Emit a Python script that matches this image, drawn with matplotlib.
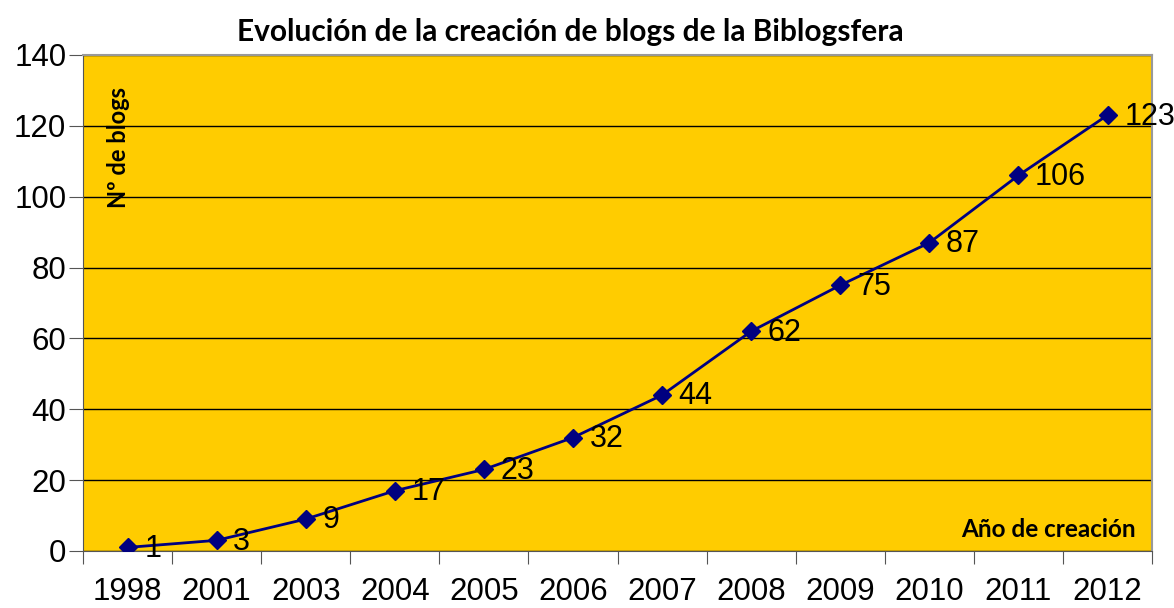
import matplotlib.pyplot as plt
import numpy as np

years = ['1998', '2001', '2003', '2004', '2005', '2006', '2007',
         '2008', '2009', '2010', '2011', '2012']
blogs = [1, 3, 9, 17, 23, 32, 44, 62, 75, 87, 106, 123]

fig = plt.figure(figsize=(11.74, 6.08), dpi=100)
ax = fig.add_axes([0.0707, 0.0938, 0.9106, 0.8158])
ax.set_facecolor('#FFCC00')

x = np.arange(len(years))
ax.plot(x, blogs, color='#000080', lw=2, marker='D', markersize=9, zorder=3)

for xi, v in zip(x, blogs):
    ax.annotate(str(v), (xi, v), xytext=(12, -1), textcoords='offset points',
                ha='left', va='center', fontsize=22, family='Liberation Sans')

ax.set_xlim(-0.5, len(years) - 0.5)
ax.set_ylim(0, 140)
ax.set_yticks(np.arange(0, 141, 20))
ax.yaxis.grid(True, color='black', lw=1)
ax.set_axisbelow(True)

# category ticks between points, labels under points
ax.set_xticks(np.arange(-0.5, len(years)), labels=[''] * (len(years) + 1))
ax.set_xticks(x, labels=years, minor=True)
ax.tick_params(axis='x', which='minor', length=0, pad=19)
ax.tick_params(axis='x', which='major', length=9, color='#555555')
ax.tick_params(axis='y', length=10, pad=2, color='#555555')
for lab in ax.get_xticklabels(minor=True) + ax.get_yticklabels():
    lab.set_fontsize(22.5)
    lab.set_family('Liberation Sans')

for side in ['top', 'right']:
    ax.spines[side].set_color('#999999')
    ax.spines[side].set_linewidth(1.5)
for side in ['left', 'bottom']:
    ax.spines[side].set_color('#555555')

fig.text(0.486, 0.948, 'Evolución de la creación de blogs de la Biblogsfera',
         ha='center', va='center', fontsize=21.5, fontweight='bold', family='Lato')
ax.text(0.033, 0.935, 'Nº de blogs', transform=ax.transAxes, rotation=90,
        ha='center', va='top', fontsize=17, fontweight='bold', family='Lato')
ax.text(0.985, 0.043, 'Año de creación', transform=ax.transAxes,
        ha='right', va='center', fontsize=17.5, fontweight='bold', family='Lato')

fig.savefig('out.png', dpi=100)
